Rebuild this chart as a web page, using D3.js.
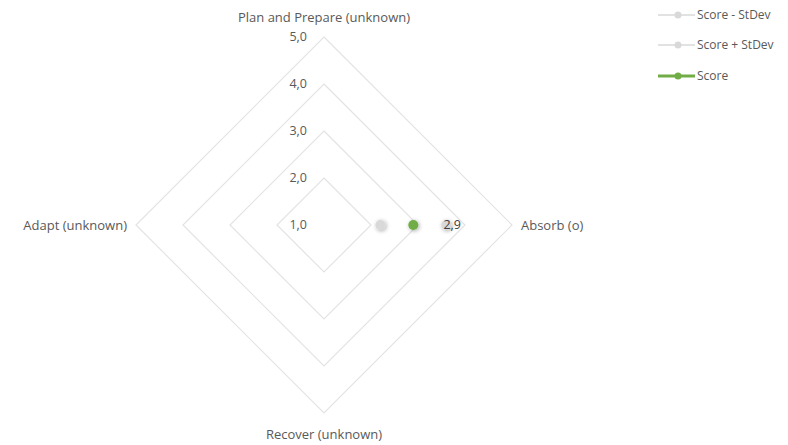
<!DOCTYPE html>
<html>
<head>
<meta charset="utf-8">
<script src="https://cdn.jsdelivr.net/npm/d3@7"></script>
<style>
  body { margin: 0; background: #fff; }
  text { font-family: "Open Sans", "Noto Sans", sans-serif; fill: #595959; }
</style>
</head>
<body>
<div id="chart"></div>
<script>
// Axes of the radar, clockwise from top
const axes = ['Plan and Prepare (unknown)', 'Absorb (o)', 'Recover (unknown)', 'Adapt (unknown)'];
const ticks = [1, 2, 3, 4, 5];
// Only Absorb has a value; the others are empty
const scoreMinus = [null, 2.2, null, null];
const scorePlus = [null, 3.6, null, null];
const score = [null, 2.9, null, null];
const legendItems = ['Score - StDev', 'Score + StDev', 'Score'];

const width = 788, height = 445;
const cx = 324, cy = 225, radius = 188;

const svg = d3.select('#chart').append('svg')
  .attr('width', width)
  .attr('height', height);

// Soft shadow for markers
const defs = svg.append('defs');
const f = defs.append('filter').attr('id', 'shadow')
  .attr('x', '-100%').attr('y', '-100%').attr('width', '300%').attr('height', '300%');
f.append('feGaussianBlur').attr('in', 'SourceAlpha').attr('stdDeviation', 2).attr('result', 'b');
f.append('feOffset').attr('in', 'b').attr('dx', 1).attr('dy', 1).attr('result', 'o');
f.append('feComponentTransfer').attr('in', 'o').attr('result', 's')
  .append('feFuncA').attr('type', 'linear').attr('slope', 0.35);
const m = f.append('feMerge');
m.append('feMergeNode').attr('in', 's');
m.append('feMergeNode').attr('in', 'SourceGraphic');

const r = d3.scaleLinear().domain([1, 5]).range([0, radius]);
const angle = d3.scaleBand().domain(axes).range([0, 2 * Math.PI]).paddingInner(0).paddingOuter(0);
const ang = d => angle(d) - Math.PI / 2;
const pt = (a, v) => [cx + r(v) * Math.cos(ang(a)), cy + r(v) * Math.sin(ang(a))];

const g = svg.append('g');

// Grid diamonds
ticks.slice(1).forEach(t => {
  g.append('path')
    .attr('d', d3.line()(axes.map(a => pt(a, t))) + 'Z')
    .attr('fill', 'none')
    .attr('stroke', '#e3e3e3')
    .attr('stroke-width', 1.2);
});

// Tick labels
g.selectAll('.tick')
  .data(ticks)
  .enter().append('text')
  .attr('x', cx - 17)
  .attr('y', t => cy - r(t))
  .attr('dy', '0.35em')
  .attr('text-anchor', 'end')
  .style('font-size', '12.5px')
  .text(t => d3.format('.1f')(t).replace('.', ','));

// Axis labels
const labelPos = [
  { x: cx, y: 22, anchor: 'middle' },
  { x: cx + radius + 9, y: cy + 5, anchor: 'start' },
  { x: cx, y: 439, anchor: 'middle' },
  { x: cx - radius - 9, y: cy + 5, anchor: 'end' }
];
axes.forEach((a, i) => {
  g.append('text')
    .attr('x', labelPos[i].x)
    .attr('y', labelPos[i].y)
    .attr('text-anchor', labelPos[i].anchor)
    .style('font-size', '13px')
    .text(a);
});

// Markers
const series = [
  { values: scoreMinus, color: '#d9d9d9' },
  { values: scorePlus, color: '#d9d9d9' },
  { values: score, color: '#70ad47' }
];
series.forEach(s => {
  s.values.forEach((v, i) => {
    if (v == null) return;
    const [x, y] = pt(axes[i], v);
    g.append('circle')
      .attr('cx', x).attr('cy', y).attr('r', 5)
      .attr('fill', s.color)
      .attr('filter', 'url(#shadow)');
  });
});

// Data label for Score
score.forEach((v, i) => {
  if (v == null) return;
  const [x, y] = pt(axes[i], scorePlus[i]);
  g.append('text')
    .attr('x', x + 6)
    .attr('y', y)
    .attr('dy', '0.35em')
    .attr('text-anchor', 'middle')
    .style('font-size', '12.5px')
    .style('fill', '#404040')
    .text(d3.format('.1f')(v).replace('.', ','));
});

// Legend
const legend = svg.append('g').attr('transform', 'translate(658, 15)');
const legendY = [0, 30, 61];
legendItems.forEach((name, i) => {
  const row = legend.append('g').attr('transform', `translate(0, ${legendY[i]})`);
  const isScore = name === 'Score';
  row.append('line')
    .attr('x1', 0).attr('x2', 37).attr('y1', 0).attr('y2', 0)
    .attr('stroke', isScore ? '#70ad47' : '#d9d9d9')
    .attr('stroke-width', isScore ? 3 : 1.5);
  row.append('circle')
    .attr('cx', 20).attr('cy', 0).attr('r', 3.5)
    .attr('fill', isScore ? '#70ad47' : '#d9d9d9');
  row.append('text')
    .attr('x', 39).attr('y', 0).attr('dy', '0.35em')
    .style('font-size', '12px')
    .text(name);
});
</script>
</body>
</html>
